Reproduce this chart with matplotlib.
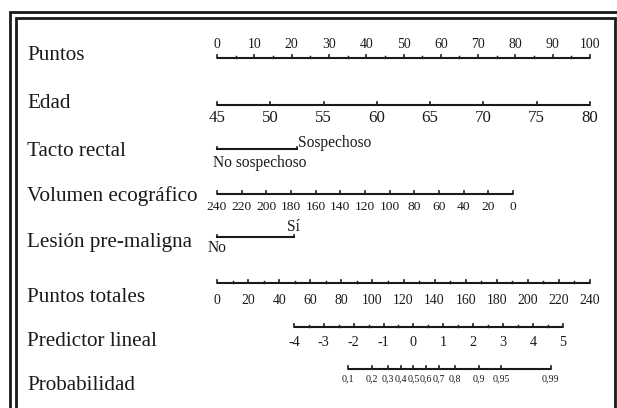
import numpy as np
import matplotlib
matplotlib.use("Agg")
import matplotlib.pyplot as plt
from matplotlib.patches import Rectangle

# ---------------- data ----------------
row_labels = ["Puntos", "Edad", "Tacto rectal", "Volumen ecográfico",
              "Lesión pre-maligna", "Puntos totales", "Predictor lineal", "Probabilidad"]

points_ticks = list(range(0, 101, 10))
points_minor = list(range(5, 100, 10))

age_ticks = [45, 50, 55, 60, 65, 70, 75, 80]
age_points_range = (0, 100)          # points at age 45 and at age 80

tacto_levels = ["No sospechoso", "Sospechoso"]
tacto_points = [0, 21.4]

volumen_ticks = [240, 220, 200, 180, 160, 140, 120, 100, 80, 60, 40, 20, 0]
volumen_points_at_0 = 79.4           # points for volume 0 (240 -> 0 points)

lesion_levels = ["No", "Sí"]
lesion_points = [0, 20.6]

total_ticks = list(range(0, 241, 20))
total_minor = list(range(10, 240, 20))
total_max = 240

lp_ticks = [-4, -3, -2, -1, 0, 1, 2, 3, 4, 5]
lp_minor = [-3.5, -2.5, -1.5, -0.5, 0.5, 1.5, 2.5, 3.5, 4.5]
lp_total_at_m4 = 49.5                # total points at linear predictor -4
lp_total_per_unit = 19.22            # total points per unit of linear predictor

prob_ticks = [0.1, 0.2, 0.3, 0.4, 0.5, 0.6, 0.7, 0.8, 0.9, 0.95, 0.99]
prob_labels = ["0,1", "0,2", "0,3", "0,4", "0,5", "0,6", "0,7", "0,8", "0,9", "0,95", "0,99"]

# ---------------- layout ----------------
W, H = 617, 408
fig = plt.figure(figsize=(W / 100, H / 100), dpi=100)
ax = fig.add_axes([0, 0, 1, 1])
x0_px, x100_px = 217, 590
ppp = (x100_px - x0_px) / 100.0
ax.set_xlim(-x0_px / ppp, (W - x0_px) / ppp)
ax.set_ylim(H, 0)
ax.axis("off")

serif = ["Liberation Serif", "DejaVu Serif"]
col = "#1a1a1a"
LW = 1.5
TICK_MAJ = 3.5
TICK_MIN = 2.0
FS_ROW = 15.2
FS_TICK = 9.9
FS_WORD = 11.2

row_y = [56, 103, 152, 196, 243, 297, 341, 386]
line_y = [58, 105, 149, 194, 237, 283, 327, 369]

for lab, y in zip(row_labels, row_y):
    ax.text(-x0_px / ppp + 27 / ppp, y, lab, fontsize=FS_ROW, family=serif,
            va="center", ha="left", color=col)


def scale(y, xs, labels, where, minor=None, fs=FS_TICK, off=11):
    xs = np.asarray(xs, float)
    ax.plot([xs.min(), xs.max()], [y, y], color=col, lw=LW, solid_capstyle="butt")
    for x in xs:
        ax.plot([x, x], [y, y - TICK_MAJ], color=col, lw=LW * 0.8)
    if minor is not None:
        for x in np.asarray(minor, float):
            ax.plot([x, x], [y, y - TICK_MIN], color=col, lw=LW * 0.7)
    dy = -off - 3 if where == "above" else off + 1
    for x, t in zip(xs, labels):
        ax.text(x, y + dy, t, fontsize=fs, family=serif, ha="center", va="center", color=col)


# Puntos
scale(line_y[0], points_ticks, [str(t) for t in points_ticks], "above", minor=points_minor)

# Edad
age_x = [age_points_range[0] + (a - age_ticks[0]) / (age_ticks[-1] - age_ticks[0])
         * (age_points_range[1] - age_points_range[0]) for a in age_ticks]
scale(line_y[1], age_x, [str(a) for a in age_ticks], "below", fs=12.2, off=12.5)

# Tacto rectal
y = line_y[2]
ax.plot([tacto_points[0], tacto_points[1]], [y, y], color=col, lw=LW)
for x in tacto_points:
    ax.plot([x, x], [y, y - 2.5], color=col, lw=LW * 0.8)
ax.text(tacto_points[1] + 1.5 / ppp, y - 6, tacto_levels[1], fontsize=FS_WORD, family=serif,
        ha="left", va="center", color=col)
ax.text(tacto_points[0] - 4 / ppp, y + 14, tacto_levels[0], fontsize=FS_WORD, family=serif,
        ha="left", va="center", color=col)

# Volumen ecográfico
vol_x = [(240 - v) / 240 * volumen_points_at_0 for v in volumen_ticks]
scale(line_y[3], vol_x, [str(v) for v in volumen_ticks], "below", fs=9.7, off=12)

# Lesión pre-maligna
y = line_y[4]
ax.plot([lesion_points[0], lesion_points[1]], [y, y], color=col, lw=LW)
for x in lesion_points:
    ax.plot([x, x], [y, y - 2.5], color=col, lw=LW * 0.8)
ax.text(lesion_points[1], y - 10, lesion_levels[1], fontsize=FS_WORD, family=serif,
        ha="center", va="center", color=col)
ax.text(lesion_points[0] - 9 / ppp, y + 11, lesion_levels[0], fontsize=FS_WORD, family=serif,
        ha="left", va="center", color=col)

# Puntos totales
tot_x = [t / total_max * 100 for t in total_ticks]
tot_minor_x = [t / total_max * 100 for t in total_minor]
scale(line_y[5], tot_x, [str(t) for t in total_ticks], "below", minor=tot_minor_x, off=16)


def lp_to_x(lp):
    return (lp_total_at_m4 + (np.asarray(lp, float) + 4) * lp_total_per_unit) / total_max * 100


# Predictor lineal
scale(line_y[6], lp_to_x(lp_ticks), [str(t) for t in lp_ticks], "below",
      minor=lp_to_x(lp_minor), fs=10.2, off=15)

# Probabilidad
p = np.asarray(prob_ticks)
prob_x = lp_to_x(np.log(p / (1 - p)))
scale(line_y[7], prob_x, prob_labels, "below", fs=7.2, off=9)

# double frame (extends past the right and bottom edges)
fig.add_artist(Rectangle((9.5 / W, -0.1), 2, 1 - 11.5 / H + 0.1, transform=fig.transFigure,
                         fill=False, lw=2.0, ec=col))
fig.add_artist(Rectangle((15.5 / W, -0.1), (614.5 - 15.5) / W, 1 - 17.5 / H + 0.1,
                         transform=fig.transFigure, fill=False, lw=2.0, ec=col))

fig.savefig("out.png", dpi=100)
